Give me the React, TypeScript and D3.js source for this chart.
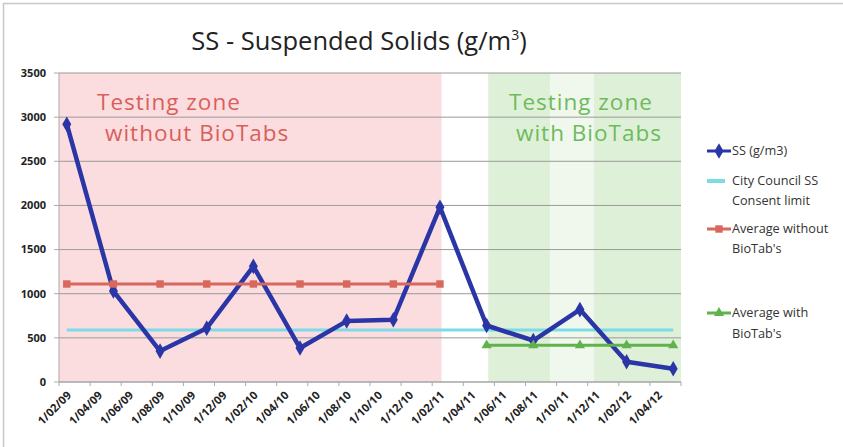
import React from "react";
import * as d3 from "d3";

// sample dates (d/mm/yy) and suspended solids readings
const sampleDates = [
  "1/02/09", "1/05/09", "1/08/09", "1/11/09", "1/02/10", "1/05/10", "1/08/10",
  "1/11/10", "1/02/11", "1/05/11", "1/08/11", "1/11/11", "1/02/12", "1/05/12",
];
const ssValues = [2920, 1030, 350, 610, 1310, 385, 690, 705, 1980, 640, 470, 820, 230, 150];
const consentLimit = [590, 590, 590, 590, 590, 590, 590, 590, 590, 590, 590, 590, 590, 590];
const avgWithoutDates = sampleDates.slice(0, 9);
const avgWithoutValues = [1110, 1110, 1110, 1110, 1110, 1110, 1110, 1110, 1110];
const avgWithDates = sampleDates.slice(9);
const avgWithValues = [415, 415, 415, 415, 415];

const tickLabels = [
  "1/02/09", "1/04/09", "1/06/09", "1/08/09", "1/10/09", "1/12/09", "1/02/10",
  "1/04/10", "1/06/10", "1/08/10", "1/10/10", "1/12/10", "1/02/11", "1/04/11",
  "1/06/11", "1/08/11", "1/10/11", "1/12/11", "1/02/12", "1/04/12",
];
const yTicks = [0, 500, 1000, 1500, 2000, 2500, 3000, 3500];

// shaded zones, in months since Feb 2009
const zoneWithout = [0, 24.6];
const zonesWith = [
  [27.6, 31.6, "strong"],
  [31.6, 34.4, "faint"],
  [34.4, 40, "strong"],
];

const W = 843;
const H = 447;
const margin = { top: 73, left: 59, right: 162, bottom: 65 };
const FONT = "'Open Sans', sans-serif";

// month offset from Feb 2009
function monthIndex(s: string) {
  const [, mm, yy] = s.split("/").map(Number);
  return (yy - 9) * 12 + (mm - 2);
}

export default function App() {
  const x = d3.scaleLinear().domain([0, 40]).range([margin.left, W - margin.right]);
  const y = d3.scaleLinear().domain([0, 3500]).range([H - margin.bottom, margin.top]);
  const xAt = (d: string) => x(monthIndex(d) + 0.5);

  const line = d3
    .line<[string, number]>()
    .x((d) => xAt(d[0]))
    .y((d) => y(d[1]));

  const ss = sampleDates.map((d, i) => [d, ssValues[i]] as [string, number]);
  const limit = sampleDates.map((d, i) => [d, consentLimit[i]] as [string, number]);
  const avgA = avgWithoutDates.map((d, i) => [d, avgWithoutValues[i]] as [string, number]);
  const avgB = avgWithDates.map((d, i) => [d, avgWithValues[i]] as [string, number]);

  const diamond = d3.symbol(d3.symbolDiamond, 70)()!;
  const square = d3.symbol(d3.symbolSquare, 55)()!;
  const triangle = d3.symbol(d3.symbolTriangle, 45)()!;

  const top = y(3500);
  const bottom = y(0);

  const blue = "#2b36a6";
  const red = "#d8675c";
  const green = "#5fb24c";
  const cyan = "#7ddbe8";

  const legendX = 707;

  return (
    <svg width={W} height={H} style={{ position: "absolute", left: 0, top: 0, background: "#fff" }}>
      {/* frame */}
      <line x1={3} x2={W} y1={3.5} y2={3.5} stroke="#c8c8c8" strokeWidth={1.5} />
      <line x1={3.5} x2={3.5} y1={3} y2={H} stroke="#c8c8c8" strokeWidth={1.5} />

      <text x={359} y={50} textAnchor="middle" fontFamily={FONT} fontSize={25.5} fill="#222">
        SS - Suspended Solids (g/m<tspan dy={-10} fontSize={14}>3</tspan>
        <tspan dy={10}>)</tspan>
      </text>

      {/* zones */}
      <rect x={x(zoneWithout[0])} y={top} width={x(zoneWithout[1]) - x(zoneWithout[0])} height={bottom - top} fill="#fbdde0" />
      {zonesWith.map(([a, b, k], i) => (
        <rect key={i} x={x(a as number)} y={top} width={x(b as number) - x(a as number)} height={bottom - top}
          fill={k === "strong" ? "#dff0d8" : "#f0f8ee"} />
      ))}

      {/* gridlines */}
      {yTicks.map((t) => (
        <line key={t} x1={x(0)} x2={x(40)} y1={y(t)} y2={y(t)} stroke="#9a9a9a" strokeWidth={1} />
      ))}

      {/* axes */}
      <line x1={x(0)} x2={x(0)} y1={top} y2={bottom} stroke="#aaa" />
      {yTicks.map((t) => (
        <g key={t}>
          <line x1={x(0) - 5} x2={x(0)} y1={y(t)} y2={y(t)} stroke="#aaa" />
          <text x={46} y={y(t)} dy="0.35em" textAnchor="end" fontFamily={FONT} fontWeight={700} fontSize={11} fill="#222">
            {t}
          </text>
        </g>
      ))}
      <line x1={x(0)} x2={x(40)} y1={bottom} y2={bottom} stroke="#aaa" />
      {d3.range(0, 41, 2).map((m) => (
        <line key={m} x1={x(m)} x2={x(m)} y1={bottom} y2={bottom + 4} stroke="#aaa" />
      ))}
      {tickLabels.map((l, i) => (
        <text key={l} transform={`translate(${x(i * 2) + 13},${bottom + 14}) rotate(-45)`} textAnchor="end"
          fontFamily={FONT} fontWeight={700} fontSize={11.3} fill="#222">
          {l}
        </text>
      ))}

      {/* zone labels */}
      <g fontFamily={FONT} fontSize={22.5} letterSpacing={1}>
        <text x={97} y={110} fill="#d95f5a">Testing zone</text>
        <text x={105} y={141} fill="#d95f5a">without BioTabs</text>
        <text x={509} y={110} fill="#6dbb5c">Testing zone</text>
        <text x={516} y={141} fill="#6dbb5c">with BioTabs</text>
      </g>

      {/* series */}
      <path d={line(limit)!} fill="none" stroke={cyan} strokeWidth={3} />
      <path d={line(ss)!} fill="none" stroke={blue} strokeWidth={4.5} strokeLinejoin="round" />
      {ss.map((d, i) => (
        <path key={i} d={diamond} transform={`translate(${xAt(d[0])},${y(d[1])})`} fill={blue} />
      ))}
      <path d={line(avgA)!} fill="none" stroke={red} strokeWidth={3} />
      {avgA.map((d, i) => (
        <path key={i} d={square} transform={`translate(${xAt(d[0])},${y(d[1])})`} fill={red} />
      ))}
      <path d={line(avgB)!} fill="none" stroke={green} strokeWidth={3} />
      {avgB.map((d, i) => (
        <path key={i} d={triangle} transform={`translate(${xAt(d[0])},${y(d[1])})`} fill={green} />
      ))}

      {/* legend */}
      <g fontFamily={FONT} fontSize={12.7} fill="#333">
        <line x1={legendX} x2={legendX + 24} y1={151} y2={151} stroke={blue} strokeWidth={3} />
        <path d={diamond} transform={`translate(${legendX + 12},151)`} fill={blue} />
        <text x={legendX + 25} y={151} dy="0.35em">SS (g/m3)</text>

        <line x1={legendX} x2={legendX + 18} y1={181} y2={181} stroke={cyan} strokeWidth={4} />
        <text x={legendX + 25} y={181} dy="0.35em">City Council SS</text>
        <text x={legendX + 25} y={201} dy="0.35em">Consent limit</text>

        <line x1={legendX} x2={legendX + 24} y1={229} y2={229} stroke={red} strokeWidth={3} />
        <path d={square} transform={`translate(${legendX + 12},229)`} fill={red} />
        <text x={legendX + 25} y={229} dy="0.35em">Average without</text>
        <text x={legendX + 25} y={249} dy="0.35em">BioTab's</text>

        <line x1={legendX} x2={legendX + 24} y1={313} y2={313} stroke={green} strokeWidth={3} />
        <path d={triangle} transform={`translate(${legendX + 12},313)`} fill={green} />
        <text x={legendX + 25} y={313} dy="0.35em">Average with</text>
        <text x={legendX + 25} y={334} dy="0.35em">BioTab's</text>
      </g>
    </svg>
  );
}
